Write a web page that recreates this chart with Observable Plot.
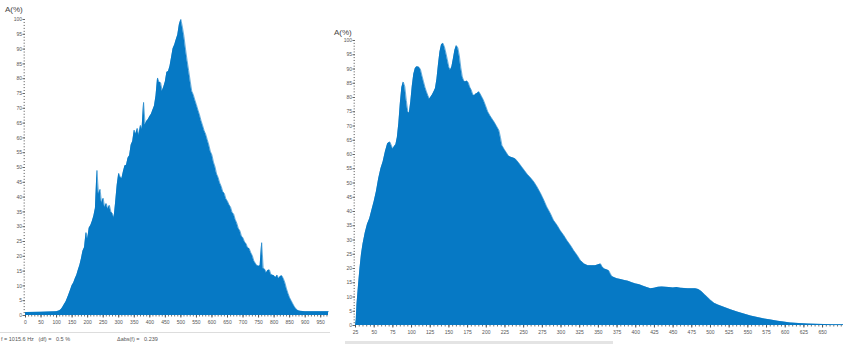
<!DOCTYPE html>
<html>
<head>
<meta charset="utf-8">
<script src="https://cdn.jsdelivr.net/npm/d3@7"></script>
<script src="https://cdn.jsdelivr.net/npm/@observablehq/plot@0.6"></script>
<style>
  html, body { margin: 0; padding: 0; background: #fff; }
  #wrap { position: relative; width: 843px; height: 344px; overflow: hidden; font-family: "Liberation Sans", Arial, sans-serif; }
  #left { position: absolute; left: 0; top: 0; }
  #right { position: absolute; left: 330px; top: 0; }
  .ylab { position: absolute; font-size: 8px; color: #444; }
  #status { position: absolute; left: 0; top: 332px; width: 330px; height: 12px; border-top: 1px solid #ddd; font-size: 5.5px; color: #555; }
  #status span { position: absolute; top: 3px; white-space: pre; }
  #rband { position: absolute; left: 345px; top: 341px; width: 268px; height: 3px; background: #e4e4e4; }
  svg { overflow: visible; }
</style>
</head>
<body>
<div id="wrap">
  <div id="left"></div>
  <div id="right"></div>
  <div class="ylab" style="left:5px; top:5px;">A(%)</div>
  <div class="ylab" style="left:334px; top:28px;">A(%)</div>
  <div id="status"><span style="left:1px;">f = 1015.6 Hz   (df) =   0.5 %</span><span style="left:117px;">Δabs(f) =   0.239</span></div>
  <div id="rband"></div>
</div>
<script>
// ---- tick labels ----
const yTickLabels = [0,5,10,15,20,25,30,35,40,45,50,55,60,65,70,75,80,85,90,95,100];
const leftXTicks = [0,50,100,150,200,250,300,350,400,450,500,550,600,650,700,750,800,850,900,950];
const rightXTicks = [25,50,75,100,125,150,175,200,225,250,275,300,325,350,375,400,425,450,475,500,525,550,575,600,625,650];

// ---- left spectrum ----
const leftFreq = [0,50,100,110,
  115,120,125,130,135,140,145,150,155,160,165,170,175,180,185,190,195,200,205,210,215,220,225,230,235,240,
  245,250,255,260,265,270,275,280,285,290,295,300,305,310,315,320,325,330,335,340,345,350,355,360,365,370,
  375,380,385,390,395,400,405,410,415,420,425,430,435,440,445,450,455,460,465,470,475,480,485,490,495,500,
  505,510,515,520,525,530,535,540,545,550,555,560,565,570,575,580,585,590,595,600,605,610,615,620,625,630,
  635,640,645,650,655,660,665,670,675,680,685,690,695,700,705,710,715,720,725,730,735,740,745,750,755,760,
  765,770,775,780,785,790,795,800,805,810,815,820,825,830,835,840,845,850,855,860,865,870,875,880,885,
  900,950,975];
const leftAmp = [1.0,1.1,1.3,1.6,
  2.0,2.8,3.7,4.6,5.8,7.2,8.6,10.1,11.0,12.4,13.6,15.4,17.0,19.2,21.8,23.0,28.0,25.8,29.6,30.4,31.8,33.6,36.2,49.0,40.8,42.6,
  37.8,39.6,36.4,37.8,35.9,37.2,35.0,34.4,32.9,38.2,44.0,48.0,46.8,46.2,48.6,50.6,50.8,53.2,54.0,57.6,58.8,62.6,61.2,63.2,60.8,64.2,
  62.8,72.0,64.4,65.6,66.2,67.2,68.0,69.4,70.8,74.2,80.2,78.8,78.6,75.8,77.2,79.0,82.2,82.4,84.2,87.2,90.2,91.4,93.2,94.8,98.2,100,
  97.4,94.2,90.0,86.2,82.8,79.2,75.8,74.6,72.8,71.2,69.4,67.8,65.8,64.2,62.4,61.2,59.4,57.6,55.4,54.2,51.8,50.2,47.8,46.6,44.8,43.6,
  41.8,41.2,39.4,38.6,37.4,36.6,34.8,34.2,32.4,31.2,29.4,28.6,26.8,26.2,24.8,24.2,22.8,22.6,21.2,20.2,18.4,17.6,16.8,16.6,16.8,24.6,
  15.8,15.6,14.4,15.2,15.4,13.8,13.6,13.4,12.8,13.6,12.4,13.2,13.4,12.4,11.0,9.0,7.4,6.0,5.0,4.0,3.0,2.3,1.8,1.5,1.4,
  1.3,1.3,1.3];

// ---- right spectrum ----
const rightFreq = [25,26,27,29,31,33,35,38,41,44,47,50,53,56,59,62,65,68,71,73,75,77,79,81,83,85,87,89,91,93,95,97,99,
  101,103,105,107,110,112,114,116,118,120,122,124,126,128,130,132,134,136,138,140,142,144,146,148,150,152,154,156,158,160,
  162,164,166,168,170,172,174,176,178,180,182,184,186,188,190,192,194,196,199,202,205,208,211,214,217,219,221,224,227,230,
  233,236,239,243,247,251,255,260,264,268,273,277,281,286,290,295,299,304,308,313,317,322,326,331,336,341,346,350,353,355,
  358,361,364,366,368,371,375,380,385,390,395,400,405,410,415,420,425,430,435,440,445,450,455,460,465,470,475,480,484,488,
  492,496,500,505,510,518,527,536,545,554,563,572,581,590,598,607,618,630,641,652,665,678];
const rightAmp = [0,2,7.5,14,20,25,28.5,32.5,35.5,37.5,40.5,43.5,47,51.5,55,57.5,61,63.8,64.4,63.2,61.8,62.8,63.4,66,71,78,83.5,85.4,83.8,79,75,74.5,78.5,
  84,88.2,90.2,90.8,90.6,89.8,87.6,85.6,83.6,82,80.6,79.4,80.2,81,82,83.2,86.5,91.5,96,98.4,99,97.8,95.6,93.2,90.6,89.6,90.8,93.6,96.6,98.2,
  97.4,94.6,90.4,87.2,85.8,85.4,85.8,85.2,83.6,82.6,81,80.6,81.2,81.4,82,81.2,80.2,79.2,77.2,75,73.6,72.4,71.2,69.8,68.4,66,63.2,61.8,60.6,59.4,
  59,58.8,58.4,57.2,55.8,54.4,53,51.6,50.3,48.6,46.2,44,41.6,39.2,36.9,35.1,33.3,31.5,29.8,28,26.3,24.5,22.8,21.6,21,21,21,21.3,21.6,20.6,
  19.8,19.6,19.2,18.2,17.2,16.8,16.4,16.1,15.8,15.5,15,14.6,14.3,13.8,13.3,12.9,13.1,13.4,13.5,13.4,13.3,13.2,13.3,13.1,13,12.9,12.9,12.9,12.6,11.9,
  10.9,9.9,8.9,7.8,7.2,6.4,5.5,4.7,4,3.3,2.8,2.3,1.9,1.5,1.2,0.9,0.7,0.5,0.4,0.35,0.3,0.3];

const BLUE = "#0679c5";

function panel({freq, amp, width, height, mt, mb, ml, mr, xDomain, xTicks, xMinor}) {
  const data = freq.map((f, i) => ({f, a: amp[i]}));
  const yMinor = d3.range(0, 101, 1);
  return Plot.plot({
    width, height,
    marginTop: mt, marginBottom: mb, marginLeft: ml, marginRight: mr,
    style: {fontFamily: "'Liberation Sans', Arial, sans-serif", fontSize: "5px", color: "#555", background: "transparent"},
    x: {domain: xDomain},
    y: {domain: [0, 100]},
    marks: [
      Plot.areaY(data, {x: "f", y: "a", fill: BLUE, curve: "linear"}),
      Plot.lineY(data, {x: "f", y: "a", stroke: BLUE, strokeWidth: 0.6, curve: "linear"}),
      Plot.axisY({ticks: yMinor, tickSize: 1.5, tickFormat: () => "", label: null, stroke: "#888"}),
      Plot.axisY({ticks: yTickLabels, tickSize: 2.5, tickPadding: 1, label: null, stroke: "#666", fill: "#555"}),
      Plot.axisX({ticks: xMinor, tickSize: 1.5, tickFormat: () => "", label: null, stroke: "#777"}),
      Plot.axisX({ticks: xTicks, tickSize: 2.5, tickPadding: 2, label: null, stroke: "#555", fill: "#555"})
    ]
  });
}

document.getElementById("left").append(panel({
  freq: leftFreq, amp: leftAmp, width: 330, height: 330,
  mt: 19, mb: 15, ml: 25, mr: 2,
  xDomain: [0, 975], xTicks: leftXTicks, xMinor: d3.range(0, 976, 10)
}));

document.getElementById("right").append(panel({
  freq: rightFreq, amp: rightAmp, width: 513, height: 344,
  mt: 40, mb: 19, ml: 25, mr: 0,
  xDomain: [25, 678], xTicks: rightXTicks, xMinor: d3.range(25, 679, 5)
}));
</script>
</body>
</html>
